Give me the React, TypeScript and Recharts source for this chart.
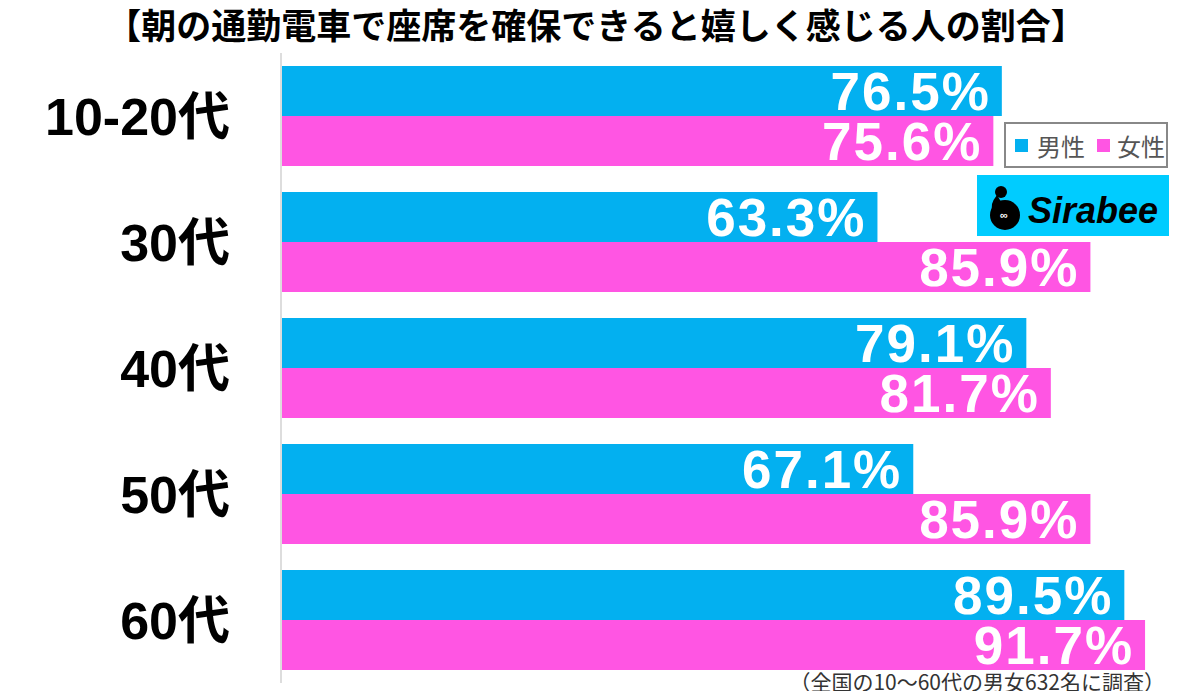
import React from "react";
import { BarChart, Bar, XAxis, YAxis, LabelList } from "recharts";

const ageGroups = ["10-20代", "30代", "40代", "50代", "60代"];
const maleValues = [76.5, 63.3, 79.1, 67.1, 89.5];
const femaleValues = [75.6, 85.9, 81.7, 85.9, 91.7];

const data = ageGroups.map((name, i) => ({
  name,
  male: maleValues[i],
  female: femaleValues[i],
}));

const BLUE = "#03B0F0";
const PINK = "#FF55E3";
const FONT = '"Liberation Sans", "Noto Sans CJK JP", sans-serif';

const AgeTick = (props: any) => {
  const { x, y, payload } = props;
  return (
    <text
      x={x - 43}
      y={y}
      dy={19}
      textAnchor="end"
      fontSize={52}
      fontWeight="bold"
      fill="#000"
      fontFamily={FONT}
    >
      {payload.value}
    </text>
  );
};

const LegendBox = () => (
  <div
    style={{
      position: "absolute",
      left: 1004,
      top: 122,
      boxSizing: "border-box",
      width: 164,
      height: 46,
      border: "2px solid #888",
      background: "#fff",
      display: "flex",
      alignItems: "center",
      paddingLeft: 9,
      fontFamily: '"Noto Sans CJK JP", sans-serif',
      fontSize: 24,
      color: "#555",
    }}
  >
    <span style={{ width: 13, height: 13, background: BLUE, marginRight: 9 }} />
    <span style={{ marginRight: 12 }}>男性</span>
    <span style={{ width: 13, height: 13, background: PINK, marginRight: 7 }} />
    <span>女性</span>
  </div>
);

const SirabeeLogo = () => (
  <svg
    width={192}
    height={61}
    style={{ position: "absolute", left: 977, top: 175 }}
  >
    <rect x={0} y={0} width={192} height={61} fill="#00CCFF" />
    <circle cx={28} cy={40} r={15} fill="#000" />
    <circle cx={24} cy={17} r={6} fill="#000" />
    <path d="M20 20 Q12 30 16 36 L26 30 Z" fill="#000" />
    <text x={23} y={44} fontSize={11} fill="#fff" fontFamily={FONT} fontWeight="bold">
      ∞
    </text>
    <text
      x={51}
      y={48}
      fontSize={36}
      fontWeight="bold"
      fontStyle="italic"
      fill="#000"
      fontFamily={FONT}
    >
      Sirabee
    </text>
  </svg>
);

const valueLabel = (key: string) => (
  <LabelList
    dataKey={key}
    position="insideRight"
    offset={11}
    fill="#fff"
    fontSize={53}
    fontWeight="bold"
    fontFamily={FONT}
    style={{ letterSpacing: 2 }}
    formatter={(v: any) => `${v}%`}
  />
);

export default function App() {
  return (
    <div
      style={{
        position: "relative",
        width: 1200,
        height: 699,
        margin: -8,
        background: "#fff",
        overflow: "hidden",
      }}
    >
      <div
        style={{
          position: "absolute",
          top: 4,
          left: 0,
          width: 1192,
          textAlign: "center",
          fontFamily: '"Noto Sans CJK JP", sans-serif',
          fontWeight: "bold",
          fontSize: 35,
          lineHeight: "40px",
          color: "#000",
        }}
      >
        【朝の通勤電車で座席を確保できると嬉しく感じる人の割合】
      </div>
      <div style={{ position: "absolute", top: 0, left: 0 }}>
        <BarChart
          width={1200}
          height={699}
          data={data}
          layout="vertical"
          margin={{ top: 53, right: 5, bottom: 16, left: 0 }}
          barCategoryGap={13}
          barGap={0}
        >
          <XAxis type="number" domain={[0, 97]} hide />
          <YAxis
            type="category"
            dataKey="name"
            width={281}
            axisLine={{ stroke: "#dddddd", strokeWidth: 2 }}
            tickLine={false}
            tick={<AgeTick />}
          />
          <Bar dataKey="male" name="男性" fill={BLUE} isAnimationActive={false}>
            {valueLabel("male")}
          </Bar>
          <Bar dataKey="female" name="女性" fill={PINK} isAnimationActive={false}>
            {valueLabel("female")}
          </Bar>
        </BarChart>
      </div>
      <LegendBox />
      <SirabeeLogo />
      <div
        style={{
          position: "absolute",
          right: 35,
          top: 669,
          fontFamily: '"Noto Sans CJK JP", sans-serif',
          fontSize: 21,
          lineHeight: "24px",
          color: "#333",
          whiteSpace: "nowrap",
        }}
      >
        （全国の10～60代の男女632名に調査）
      </div>
    </div>
  );
}
